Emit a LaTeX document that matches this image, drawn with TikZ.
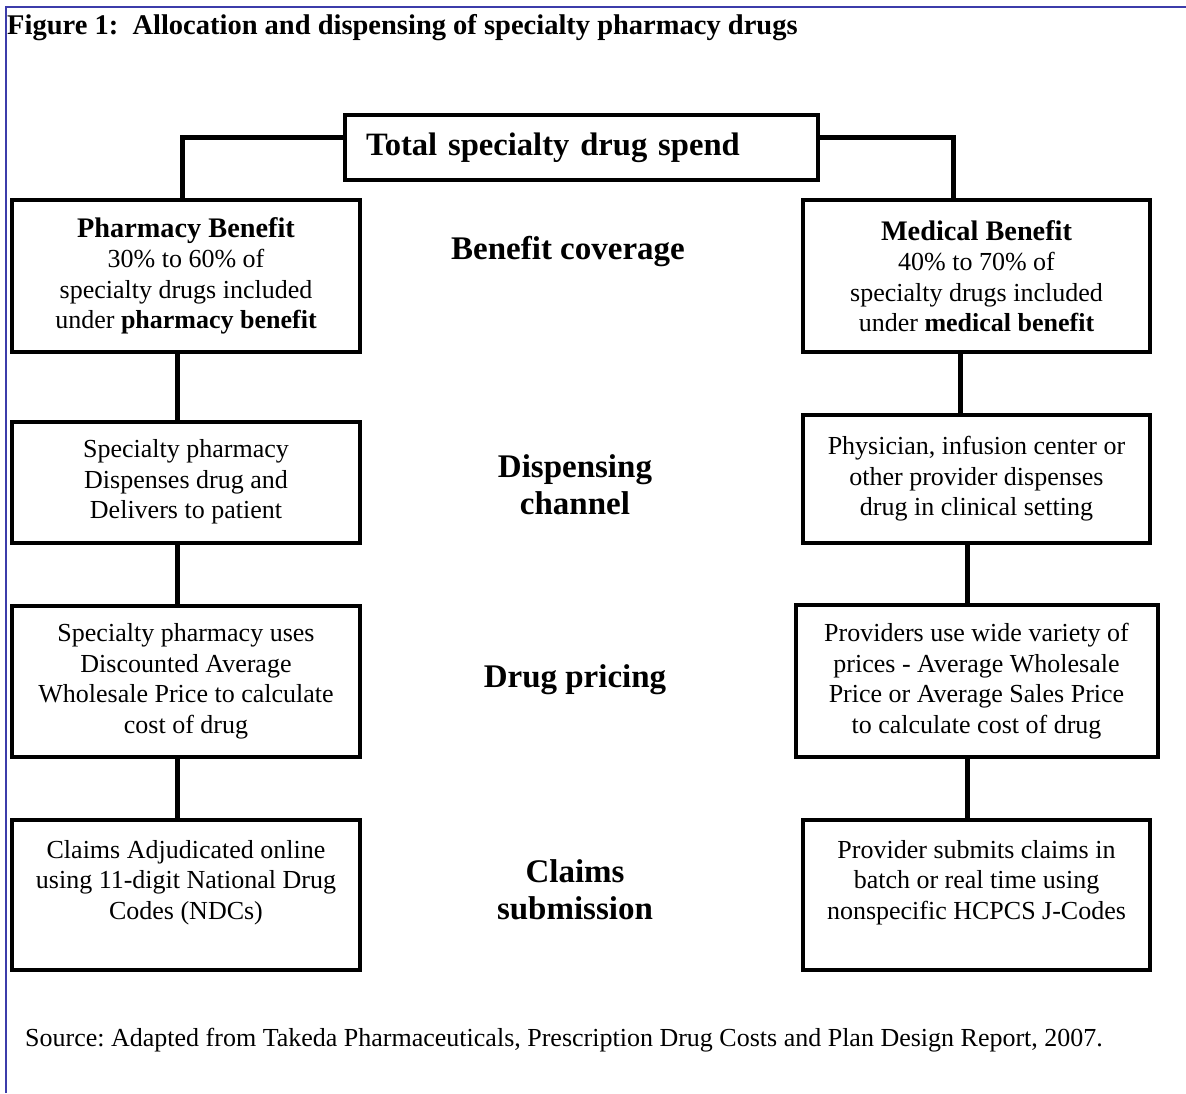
\documentclass[tikz,border=0pt]{standalone}
\usepackage{fontspec}
\setmainfont{Liberation Serif}
\frenchspacing
\definecolor{frameblue}{RGB}{60,60,170}
\newcommand{\boxhead}[1]{{\fontsize{28.3}{30.5}\selectfont\bfseries #1}}

\begin{document}
\begin{tikzpicture}[x=1pt,y=-1pt,
    box/.style={draw,line width=4pt,align=center,inner sep=0pt,
      font=\fontsize{26}{30.5}\selectfont},
    stage/.style={align=center,font=\fontsize{33}{37}\selectfont\bfseries},
    link/.style={line width=5pt}]
  \useasboundingbox (0,0) rectangle (1186,1093);
  \draw[frameblue,line width=2pt] (6,1093) -- (6,7) -- (1186,7);

  \node[anchor=base west,inner xsep=0pt,font=\fontsize{28.5}{30}\selectfont\bfseries] (title) at (7,34)
    {Figure 1:\ \ Allocation and dispensing of specialty pharmacy drugs};

  % top of the tree
  \node[box,text width=431pt,inner xsep=21pt,align=left,minimum height=65pt,
    font=\fontsize{32.6}{38}\selectfont\bfseries] (total) at (581.5,147.5)
    {Total specialty drug spend};

  % pharmacy side
  \node[box,minimum width=348pt,minimum height=152pt] (pb) at (186,276)
    {\boxhead{Pharmacy Benefit}\\30\% to 60\% of\\specialty drugs included\\under \textbf{pharmacy benefit}};
  \node[box,minimum width=348pt,minimum height=121pt] (sp) at (186,482)
    {Specialty pharmacy\\Dispenses drug and\\Delivers to patient};
  \node[box,minimum width=348pt,minimum height=151pt] (spu) at (186,681.5)
    {Specialty pharmacy uses\\Discounted Average\\Wholesale Price to calculate\\cost of drug};
  \node[box,minimum width=348pt,minimum height=150pt] (cl) at (186,895)
    {Claims Adjudicated online\\using 11-digit National Drug\\Codes (NDCs)\\~};

  % medical side
  \node[box,minimum width=347pt,minimum height=152pt] (mb) at (976.5,276)
    {\boxhead{Medical Benefit}\\40\% to 70\% of\\specialty drugs included\\under \textbf{medical benefit}};
  \node[box,minimum width=347pt,minimum height=128pt] (ph) at (976.5,479)
    {Physician, infusion center or\\other provider dispenses\\drug in clinical setting};
  \node[box,minimum width=362pt,minimum height=152pt] (pr) at (976.5,681)
    {Providers use wide variety of\\prices - Average Wholesale\\Price or Average Sales Price\\to calculate cost of drug};
  \node[box,minimum width=347pt,minimum height=150pt] (ps) at (976.5,895)
    {Provider submits claims in\\batch or real time using\\nonspecific HCPCS J-Codes\\~};

  % stage labels
  \node[stage] (cover) at (568,252) {Benefit coverage};
  \node[stage] (chan) at (575,485) {Dispensing\\channel};
  \node[stage] (price) at (575,680) {Drug pricing};
  \node[stage] (claim) at (575,890) {Claims\\submission};

  % connectors
  \draw[link] ([yshift=10.5pt]total.west) -| ([xshift=-4pt]pb.north);
  \draw[link] ([yshift=10.5pt]total.east) -| ([xshift=-23pt]mb.north);
  \draw[link] ([xshift=-9pt]pb.south) -- ([xshift=-9pt]sp.north);
  \draw[link] ([xshift=-9pt]sp.south) -- ([xshift=-9pt]spu.north);
  \draw[link] ([xshift=-9pt]spu.south) -- ([xshift=-9pt]cl.north);
  \draw[link] ([xshift=-16pt]mb.south) -- ([xshift=-16pt]ph.north);
  \draw[link] ([xshift=-9.5pt]ph.south) -- ([xshift=-9.5pt]pr.north);
  \draw[link] ([xshift=-9.5pt]pr.south) -- ([xshift=-9.5pt]ps.north);

  \node[anchor=base west,inner xsep=0pt,font=\fontsize{26}{30}\selectfont] (source) at (25,1046)
    {Source: Adapted from Takeda Pharmaceuticals, Prescription Drug Costs and Plan Design Report, 2007.};
\end{tikzpicture}
\end{document}
